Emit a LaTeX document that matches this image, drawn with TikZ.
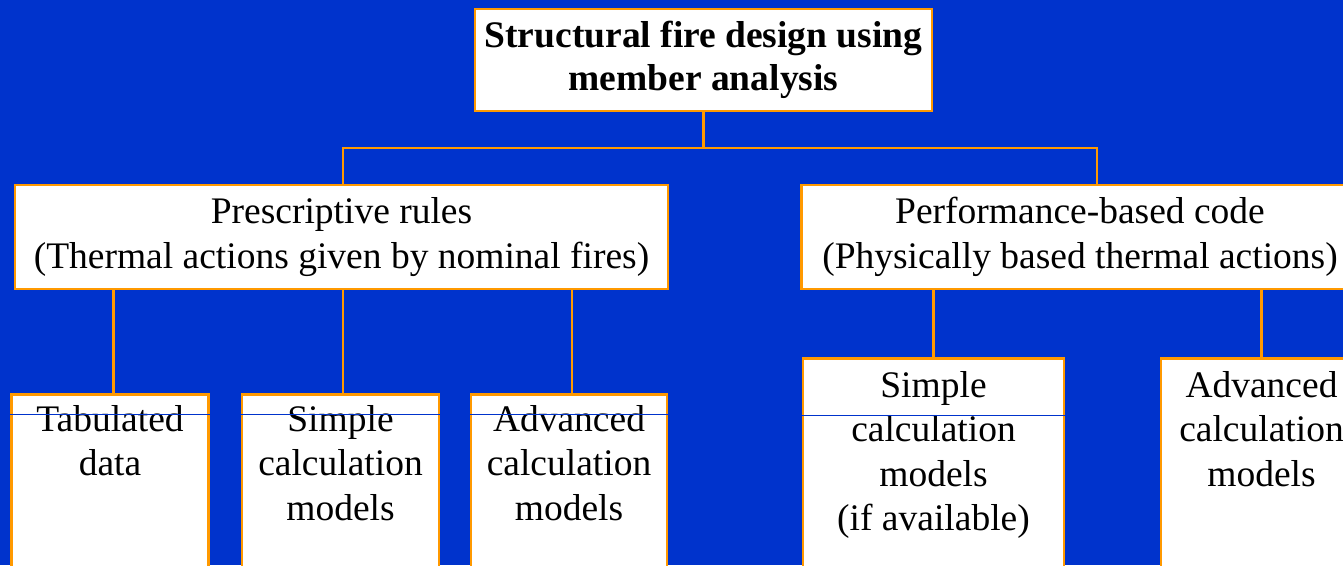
\documentclass[tikz,border=0pt]{standalone}
\usepackage{fontspec}
\setmainfont{Liberation Serif}
\definecolor{slide}{HTML}{0033CC}
\definecolor{rim}{HTML}{FF9900}
\tikzset{
  box/.style={draw=rim, line width=2.5pt, fill=white, inner sep=0pt},
  leaf/.style={box, anchor=north, minimum height=240pt},
  words/.style={align=center, inner sep=0pt, font=\fontsize{37.5}{44.5}\selectfont},
  link/.style={draw=rim, line width=2.8pt},
  rule/.style={draw=slide, line width=1pt}
}
\begin{document}
\begin{tikzpicture}[x=1pt,y=-1pt]
	\clip (0,0) rectangle (1343,565);
	\fill[slide] (0,0) rectangle (1343,565);
	% top level
	\node(Design)		[box, words, minimum width=457pt, minimum height=102pt, font=\fontsize{37.5}{43}\selectfont\bfseries] at (703.5,60)	{Structural fire design using\\member analysis};
	% two routes
	\node(Prescriptive)	[box, words, minimum width=653pt, minimum height=104pt] at (341.5,237)	{Prescriptive rules\\(Thermal actions given by nominal fires)};
	\node(Performance)	[box, words, minimum width=557pt, minimum height=104pt] at (1080,237)	{Performance-based code\\(Physically based thermal actions)};
	% leaves under the prescriptive rules
	\node(Tabulated)	[leaf, minimum width=197pt] at (110,393)	{};
	\node(SimplePres)	[leaf, minimum width=197pt] at (340.5,393)	{};
	\node(AdvancedPres)	[leaf, minimum width=196pt] at (569,393)	{};
	\node(TabulatedText)	[words, anchor=north] at ([yshift=-12pt]Tabulated.north)		{Tabulated\\data};
	\node(SimplePresText)	[words, anchor=north] at ([yshift=-12pt]SimplePres.north)		{Simple\\calculation\\models};
	\node(AdvancedPresText)	[words, anchor=north] at ([yshift=-12pt]AdvancedPres.north)	{Advanced\\calculation\\models};
	% leaves under the performance-based code
	\node(SimplePerf)	[leaf, minimum width=261pt] at (933.5,357)	{};
	\node(AdvancedPerf)	[leaf, minimum width=201pt] at (1261.5,357)	{};
	\node(SimplePerfText)	[words, anchor=north] at ([yshift=-14pt]SimplePerf.north)		{Simple\\calculation\\models\\(if available)};
	\node(AdvancedPerfText)	[words, anchor=north] at ([yshift=-14pt]AdvancedPerf.north)	{Advanced\\calculation\\models};
	% connectors
	\coordinate(Split) at (703.5,148);
	\draw[link] (Design) -- (Split);
	\draw[link] (Split) -| ([xshift=1.5pt]Prescriptive.north);
	\draw[link] (Split) -| ([xshift=17pt]Performance.north);
	\draw[link] ([xshift=3.5pt]Prescriptive.south -| Tabulated.north) -- ([xshift=3.5pt]Tabulated.north);
	\draw[link] ([xshift=2.5pt]Prescriptive.south -| SimplePres.north) -- ([xshift=2.5pt]SimplePres.north);
	\draw[link] ([xshift=3pt]Prescriptive.south -| AdvancedPres.north) -- ([xshift=3pt]AdvancedPres.north);
	\draw[link] (Performance.south -| SimplePerf.north) -- (SimplePerf.north);
	\draw[link] (Performance.south -| AdvancedPerf.north) -- (AdvancedPerf.north);
	% thin rules across the leaves
	\draw[rule] ([yshift=-21pt]Tabulated.north west) -- ([yshift=-21pt]Tabulated.north east);
	\draw[rule] ([yshift=-21pt]SimplePres.north west) -- ([yshift=-21pt]SimplePres.north east);
	\draw[rule] ([yshift=-21pt]AdvancedPres.north west) -- ([yshift=-21pt]AdvancedPres.north east);
	\draw[rule] ([yshift=-58pt]SimplePerf.north west) -- ([yshift=-58pt]SimplePerf.north east);
\end{tikzpicture}
\end{document}
